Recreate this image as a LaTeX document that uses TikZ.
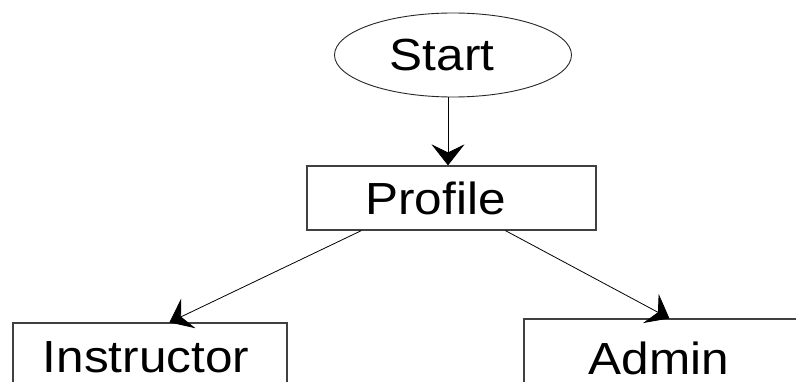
\documentclass[tikz,border=0pt]{standalone}
\usepackage{fontspec}
\setmainfont{Liberation Sans}[FakeStretch=1.1]
\usetikzlibrary{shapes.geometric,arrows.meta}
\begin{document}
\begin{tikzpicture}[x=1pt,y=1pt,
  every node/.style={font=\fontsize{45}{54}\selectfont, inner sep=0pt},
  box/.style={draw=black!75, line width=1.2pt, rectangle},
  oval/.style={draw=black!85, line width=0.9pt, ellipse},
  link/.style={draw=black, line width=0.8pt, -{Stealth[length=21pt,width=33pt,inset=8pt]}}]
  \clip (0,0) rectangle (796,-382);
  \fill[white] (0,0) rectangle (796,-382);

  % flow steps (a trailing kern nudges each label slightly left of centre)
  \node[oval, minimum width=237pt, minimum height=84pt] (start) at (453,-55) {Start\kern22pt};
  \node[box, minimum width=289pt, minimum height=64pt] (profile) at (451.5,-198) {\raisebox{-4pt}{Profile}\kern32pt};
  \node[box, minimum width=274pt, minimum height=72pt] (instructor) at (150,-359) {\raisebox{3pt}{Instructor}\kern8pt};
  \node[box, minimum width=280pt, minimum height=84pt] (admin) at (664,-361) {\raisebox{5pt}{Admin}\kern10pt};

  % connectors
  \draw[link] ([xshift=-5pt]start.south) -- ([xshift=-3.5pt]profile.north);
  \draw[link] ([xshift=55pt]profile.south west) -- ([xshift=157pt]instructor.north west);
  \draw[link] ([xshift=199pt]profile.south west) -- ([xshift=146pt]admin.north west);
\end{tikzpicture}
\end{document}
